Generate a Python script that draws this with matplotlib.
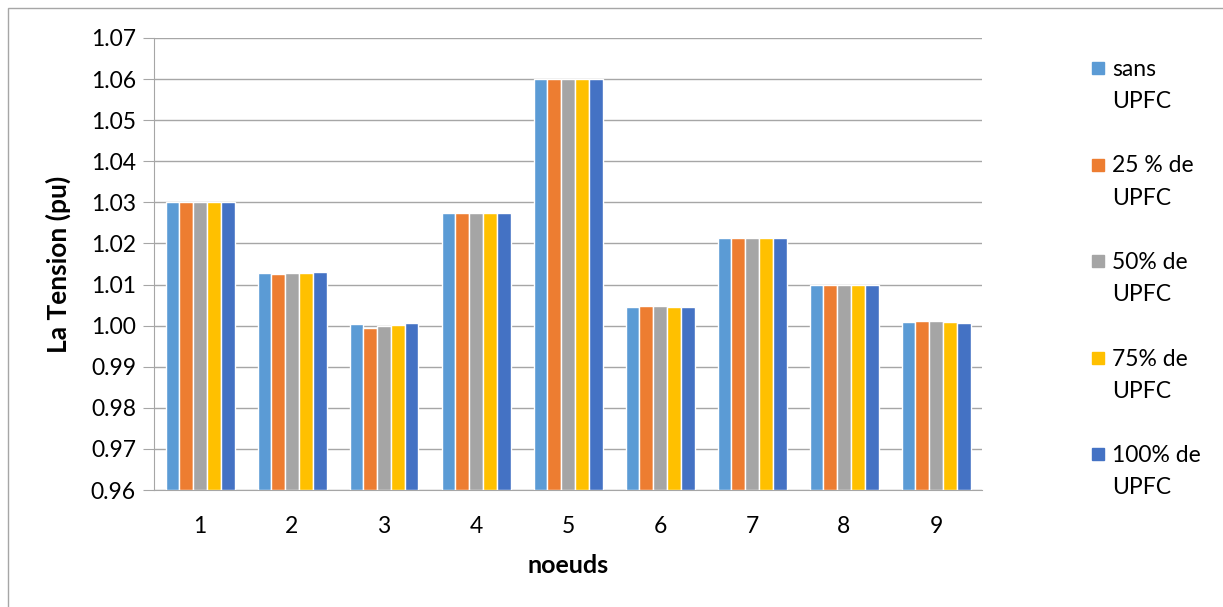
import numpy as np
import matplotlib.pyplot as plt
from matplotlib.patches import Rectangle

plt.rcParams['font.family'] = ['Lato', 'DejaVu Sans']

# Tension aux noeuds pour chaque niveau de compensation UPFC
noeuds = ['1', '2', '3', '4', '5', '6', '7', '8', '9']
sans_upfc = [1.0300, 1.0128, 1.0003, 1.0274, 1.0600, 1.0045, 1.0214, 1.0099, 1.0009]
upfc_25 = [1.0300, 1.0126, 0.9995, 1.0274, 1.0600, 1.0047, 1.0214, 1.0099, 1.0011]
upfc_50 = [1.0300, 1.0127, 0.9998, 1.0274, 1.0600, 1.0047, 1.0214, 1.0099, 1.0011]
upfc_75 = [1.0300, 1.0129, 1.0002, 1.0274, 1.0600, 1.0046, 1.0214, 1.0099, 1.0009]
upfc_100 = [1.0300, 1.0130, 1.0007, 1.0274, 1.0600, 1.0046, 1.0214, 1.0099, 1.0007]

series = [sans_upfc, upfc_25, upfc_50, upfc_75, upfc_100]
labels = ['sans\nUPFC', '25 % de\nUPFC', '50% de\nUPFC', '75% de\nUPFC', '100% de\nUPFC']
colors = ['#5B9BD5', '#ED7D31', '#A5A5A5', '#FFC000', '#4472C4']

fig = plt.figure(figsize=(12.23, 6.07), dpi=100)
ax = fig.add_axes([154 / 1223, 1 - 490 / 607, 828 / 1223, 452 / 607])

x = np.arange(len(noeuds))
w = 0.15
for i, (vals, c) in enumerate(zip(series, colors)):
    ax.bar(x + (i - 2) * w, np.array(vals) - 0.96, w, bottom=0.96,
           color=c, edgecolor='white', linewidth=1, zorder=3)

ax.set_xlim(-0.5, len(noeuds) - 0.5)
ax.set_ylim(0.96, 1.07)
ax.set_yticks(np.arange(0.96, 1.0701, 0.01))
ax.set_yticklabels([f'{v:.2f}' for v in np.arange(0.96, 1.0701, 0.01)])
ax.set_xticks(x)
ax.set_xticklabels(noeuds)
ax.yaxis.grid(True, color='#a6a6a6', linewidth=1, zorder=0)

for s in ['top', 'right']:
    ax.spines[s].set_visible(False)
for s in ['left', 'bottom']:
    ax.spines[s].set_color('#a6a6a6')
ax.tick_params(axis='y', length=8, color='#a6a6a6', labelsize=16.5, pad=5)
ax.tick_params(axis='x', length=0, labelsize=16.5, pad=19)

ax.set_xlabel('noeuds', fontsize=18, fontweight='bold', labelpad=12)
ax.set_ylabel('La Tension (pu)', fontsize=19, fontweight='bold')
ax.yaxis.set_label_coords(-0.1, 0.5)

# légende à droite, un bloc de deux lignes par série
for i, (lab, c) in enumerate(zip(labels, colors)):
    ytop = 1 - (62 + i * 96.5) / 607
    fig.patches.append(Rectangle((1092 / 1223, ytop - 12 / 607), 12 / 1223, 12 / 607,
                                 transform=fig.transFigure, color=c))
    fig.text(1112 / 1223, ytop + 3 / 607, lab, fontsize=16.5, va='top',
             linespacing=1.65)

# cadre de la figure
fig.patches.append(Rectangle((8 / 1223, -0.1), 1.2, 1.1 - 8 / 607,
                             transform=fig.transFigure, fill=False,
                             edgecolor='#a6a6a6', linewidth=1))

fig.savefig('out.png', dpi=100)
